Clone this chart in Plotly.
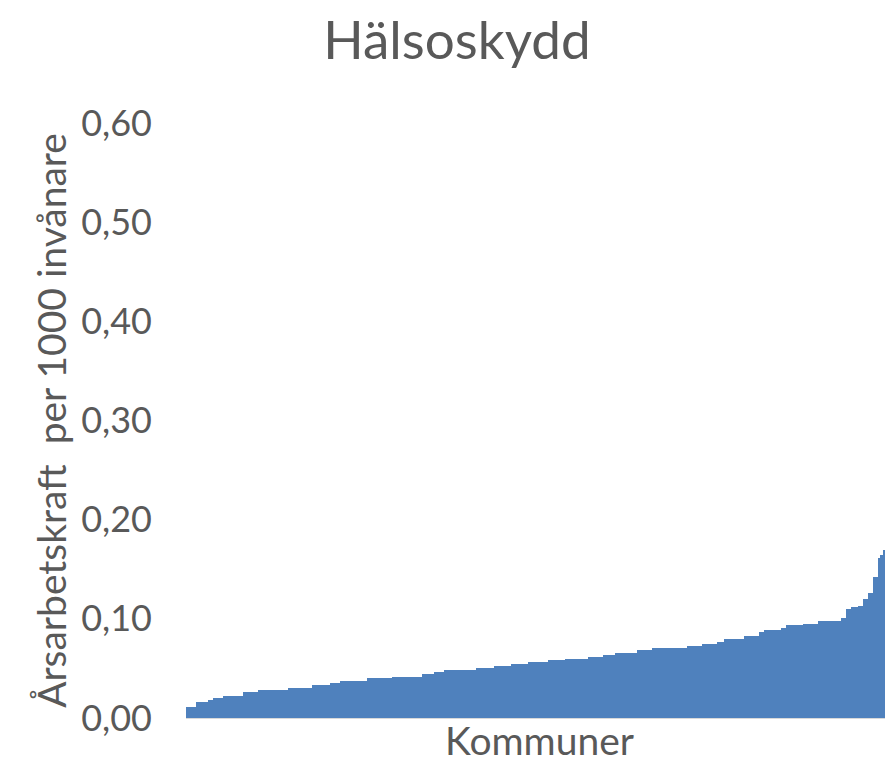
import plotly.graph_objects as go

chart_title = "Hälsoskydd"
x_title = "Kommuner"
y_title = "Årsarbetskraft  per 1000 invånare"
y_tick_vals = [0.0, 0.1, 0.2, 0.3, 0.4, 0.5, 0.6]
y_tick_text = ["0,00", "0,10", "0,20", "0,30", "0,40", "0,50", "0,60"]

# Sorted values per municipality (left to right)
values = (
    [0.0115] * 4 + [0.016] * 5 + [0.018] * 2 + [0.020] * 4 + [0.022] * 8
    + [0.026] * 6 + [0.028] * 12 + [0.030] * 10 + [0.033] * 7 + [0.035] * 4
    + [0.037] * 11 + [0.040] * 10 + [0.041] * 12 + [0.044] * 5 + [0.046] * 4
    + [0.048] * 13 + [0.050] * 7 + [0.052] * 7 + [0.054] * 7 + [0.056] * 8
    + [0.058] * 7 + [0.060] * 9 + [0.062] * 6 + [0.064] * 5 + [0.066] * 9
    + [0.069] * 6 + [0.071] * 14 + [0.073] * 6 + [0.075] * 6 + [0.077] * 3
    + [0.080] * 8 + [0.083] * 6 + [0.087] * 2 + [0.089] * 7 + [0.091] * 2
    + [0.094] * 7 + [0.095] * 6 + [0.098] * 9 + [0.101] * 2 + [0.110] * 2
    + [0.112] * 3 + [0.113] * 2 + [0.120] * 2 + [0.126] * 2 + [0.142] * 2
    + [0.161] + [0.164] + [0.169] * 2 + [0.172] * 2
    + [0.174, 0.19, 0.22, 0.30, 0.55]
)
kommuner = [f"Kommun {i + 1}" for i in range(len(values))]

grey = "#595959"
font_family = "Lato, Carlito, Calibri, sans-serif"

# The page body has an 8px default margin, so the figure is sized to fill the window.
W, H = 885, 755

fig = go.Figure(
    go.Bar(
        x=kommuner,
        y=values,
        marker=dict(color="#4f81bd", line=dict(width=0)),
        hoverinfo="y",
    )
)

fig.update_layout(
    width=W,
    height=H,
    margin=dict(l=178, r=0, t=115, b=45, autoexpand=False),
    paper_bgcolor="white",
    plot_bgcolor="white",
    bargap=0,
    showlegend=False,
    font=dict(family=font_family, color=grey),
    title=dict(
        text=chart_title,
        font=dict(size=53, color=grey, family=font_family),
        x=449 / W,
        xref="container",
        xanchor="center",
        y=1 - 32 / H,
        yref="container",
        yanchor="middle",
    ),
    xaxis=dict(
        type="category",
        range=[-0.5, 284.6],
        showticklabels=False,
        ticks="",
        showgrid=False,
        zeroline=False,
        showline=True,
        linecolor="#d9d9d9",
        linewidth=1,
        title=dict(text=x_title, font=dict(size=39, color=grey), standoff=20),
        automargin=False,
    ),
    yaxis=dict(
        range=[0, 0.6],
        tickvals=y_tick_vals,
        ticktext=y_tick_text,
        tickfont=dict(size=36, color=grey),
        ticklabelstandoff=33,
        ticks="",
        showgrid=False,
        zeroline=False,
        showline=False,
        title=dict(text=y_title, font=dict(size=39, color=grey), standoff=2),
        automargin=False,
    ),
)

fig.write_html("out.html")
